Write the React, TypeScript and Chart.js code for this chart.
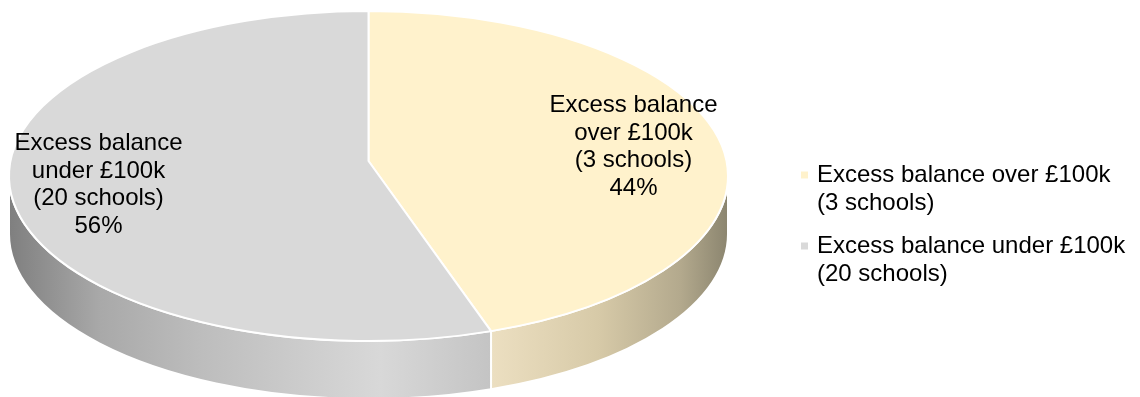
import React, { useEffect, useRef } from "react";
import { Chart, registerables } from "chart.js";

Chart.register(...registerables);

const categories = ["Excess balance over £100k (3 schools)", "Excess balance under £100k (20 schools)"];
const shares = [44, 56];
const sliceColors = ["#FFF2CC", "#D9D9D9"];
const sliceLabelLines = [
  ["Excess balance", "over £100k", "(3 schools)"],
  ["Excess balance", "under £100k", "(20 schools)"],
];
const legendLines = [
  ["Excess balance over £100k", "(3 schools)"],
  ["Excess balance under £100k", "(20 schools)"],
];
const wallStops = [
  [[0, "#ecdfc1"], [0.45, "#d7caa8"], [0.8, "#b3a98d"], [1, "#8b856f"]],
  [[0, "#7f7f7f"], [0.19, "#a9a9a9"], [0.4, "#bdbdbd"], [0.77, "#d8d8d8"], [1, "#c4c4c4"]],
];

const FONT = "'Liberation Sans', Arial, sans-serif";
const FONT_SIZE = 24;
const LINE_HEIGHT = 27.5;
const ASPECT = 359.5 / 165; // horizontal stretch of the tilted disc
const DEPTH = 58; // height of the extruded wall
const APEX_LIFT = 15; // the hub sits above the ellipse centre in this view
const TILT_WARP = 0.0426; // foreshortening of slice angles on the tilted disc
const DISC_AREA_WIDTH = 737;

const warp = (a: number) => a + TILT_WARP * Math.sin(2 * a);

// Draws the arcs of the pie as a tilted disc with a gradient side wall.
const disc3d = {
  id: "disc3d",
  beforeLayout(chart: any) {
    const legend = chart.legend;
    if (!legend.fitWrapped) {
      const fit = legend.fit;
      legend.fit = function () {
        fit.call(this);
        this.width = chart.width - DISC_AREA_WIDTH;
      };
      legend.fitWrapped = true;
    }
  },
  afterLayout(chart: any) {
    chart.legend.left = 789;
    chart.legend.top = 148;
  },
  beforeDatasetsDraw(chart: any) {
    const { ctx } = chart;
    const arcs = chart.getDatasetMeta(0).data;
    const first = arcs[0];
    const cx = first.x;
    const cy = first.y;
    const ry = first.outerRadius;
    const rx = ry * ASPECT;

    ctx.save();
    ctx.lineJoin = "round";

    // side wall: the part of each slice facing the viewer
    arcs.forEach((arc: any, i: number) => {
      const from = Math.max(warp(arc.startAngle), 0);
      const to = Math.min(warp(arc.endAngle), Math.PI);
      if (to <= from) return;
      const x0 = cx + rx * Math.cos(to);
      const x1 = cx + rx * Math.cos(from);
      const grad = ctx.createLinearGradient(x0, 0, x1, 0);
      const stops = i === 0 ? wallStops[0] : wallStops[1];
      stops.forEach(([o, c]: any) => grad.addColorStop(o, c));
      ctx.beginPath();
      ctx.ellipse(cx, cy + DEPTH, rx, ry, 0, from, to);
      ctx.ellipse(cx, cy, rx, ry, 0, to, from, true);
      ctx.closePath();
      ctx.fillStyle = grad;
      ctx.fill();
      ctx.strokeStyle = "#ffffff";
      ctx.lineWidth = 2;
      ctx.stroke();
    });

    // top face: wedges running from the lifted hub out to the rim
    arcs.forEach((arc: any) => {
      ctx.beginPath();
      ctx.moveTo(cx, cy - APEX_LIFT);
      ctx.ellipse(cx, cy, rx, ry, 0, warp(arc.startAngle), warp(arc.endAngle));
      ctx.closePath();
      ctx.fillStyle = arc.options.backgroundColor;
      ctx.fill();
      ctx.strokeStyle = "#ffffff";
      ctx.lineWidth = 2;
      ctx.stroke();
    });

    ctx.restore();
    return false;
  },
  afterDraw(chart: any) {
    const { ctx } = chart;
    const first = chart.getDatasetMeta(0).data[0];
    const total = shares.reduce((a, b) => a + b, 0);
    // label centres relative to the disc centre
    const anchors = [
      [first.x + 265, first.y - 29],
      [first.x - 270, first.y + 9],
    ];
    ctx.save();
    ctx.font = `${FONT_SIZE}px ${FONT}`;
    ctx.fillStyle = "#000000";
    ctx.textAlign = "center";
    ctx.textBaseline = "middle";
    sliceLabelLines.forEach((lines, i) => {
      const all = [...lines, `${Math.round((shares[i] / total) * 100)}%`];
      all.forEach((line, k) => {
        ctx.fillText(line, anchors[i][0], anchors[i][1] + (k - 1.5) * LINE_HEIGHT);
      });
    });
    ctx.restore();
  },
};

export default function App() {
  const canvasRef = useRef<HTMLCanvasElement | null>(null);

  useEffect(() => {
    const chart = new Chart(canvasRef.current as HTMLCanvasElement, {
      type: "pie",
      data: {
        labels: categories,
        datasets: [{ data: shares, backgroundColor: sliceColors, borderWidth: 0 }],
      },
      options: {
        responsive: false,
        animation: false,
        events: [],
        layout: { padding: { top: 11, bottom: 56, left: 0, right: 0 } },
        plugins: {
          tooltip: { enabled: false },
          legend: {
            position: "right",
            align: "start",
            labels: {
              boxWidth: 1,
              boxHeight: 1,
              padding: 15,
              color: "#000000",
              font: { family: FONT, size: FONT_SIZE, lineHeight: 28 / FONT_SIZE },
              generateLabels: () =>
                legendLines.map((text, i) => ({
                  text,
                  fillStyle: sliceColors[i],
                  strokeStyle: sliceColors[i],
                  lineWidth: 6,
                  hidden: false,
                  index: i,
                })),
            },
          },
        },
      } as any,
      plugins: [disc3d as any],
    });
    return () => chart.destroy();
  }, []);

  return (
    <div style={{ position: "fixed", left: 0, top: 0 }}>
      <canvas ref={canvasRef} width={1140} height={397} style={{ display: "block" }} />
    </div>
  );
}
